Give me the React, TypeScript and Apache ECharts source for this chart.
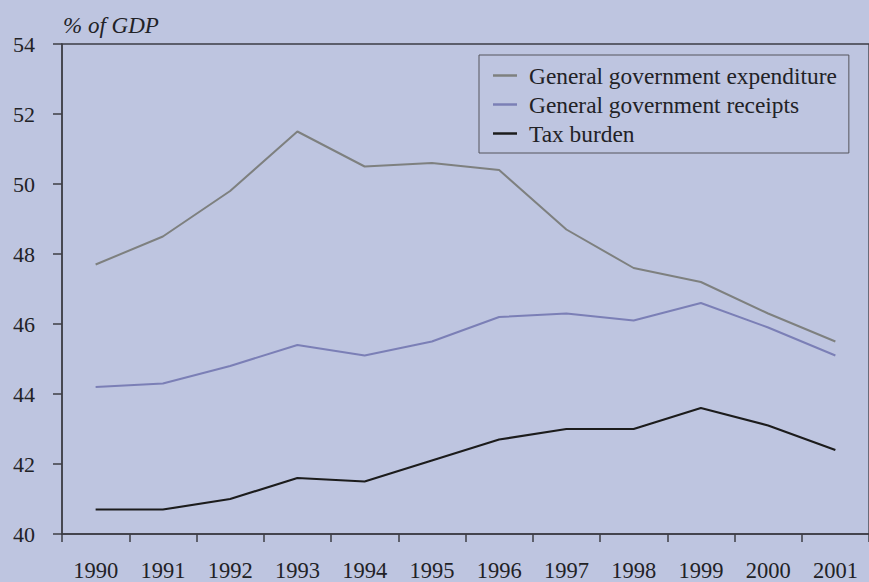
import React, { useEffect, useRef } from "react";
import * as echarts from "echarts";

const years = ["1990", "1991", "1992", "1993", "1994", "1995", "1996", "1997", "1998", "1999", "2000", "2001"];
const expenditure = [47.7, 48.5, 49.8, 51.5, 50.5, 50.6, 50.4, 48.7, 47.6, 47.2, 46.3, 45.5];
const receipts = [44.2, 44.3, 44.8, 45.4, 45.1, 45.5, 46.2, 46.3, 46.1, 46.6, 45.9, 45.1];
const taxBurden = [40.7, 40.7, 41.0, 41.6, 41.5, 42.1, 42.7, 43.0, 43.0, 43.6, 43.1, 42.4];
const seriesNames = ["General government expenditure", "General government receipts", "Tax burden"];

const FONT = "Liberation Serif";
const AXIS = "#3c3c44";
const TEXT = "#222226";

export default function App() {
  const ref = useRef<HTMLDivElement>(null);
  useEffect(() => {
    if (!ref.current) return;
    const chart = echarts.init(ref.current, null, { renderer: "svg" });
    chart.setOption({
      animation: false,
      backgroundColor: "#bec5e0",
      textStyle: { fontFamily: FONT },
      title: {
        text: "% of GDP",
        left: 58,
        top: 9,
        textStyle: { fontFamily: FONT, fontStyle: "italic", fontWeight: "normal", fontSize: 23, color: TEXT },
      },
      legend: {
        orient: "vertical",
        left: 479,
        top: 55,
        data: seriesNames,
        icon: "rect",
        itemWidth: 24,
        itemHeight: 2.5,
        itemGap: 6,
        padding: [9, 12, 8, 14],
        borderColor: "#55555c",
        borderWidth: 1,
        textStyle: { fontFamily: FONT, fontSize: 23.4, color: TEXT, lineHeight: 21, padding: [0, 0, 0, 7] },
      },
      grid: {
        left: 62,
        top: 44,
        width: 813,
        height: 491,
        show: true,
        borderColor: AXIS,
        borderWidth: 1.3,
        backgroundColor: "transparent",
      },
      xAxis: {
        type: "category",
        data: years,
        boundaryGap: true,
        axisLine: { lineStyle: { color: AXIS, width: 1.5 } },
        axisTick: { show: true, length: 8, lineStyle: { color: AXIS, width: 1.5 } },
        axisLabel: { fontFamily: FONT, fontSize: 22.5, color: TEXT, margin: 25, interval: 0 },
        splitLine: { show: false },
      },
      yAxis: {
        type: "value",
        min: 40,
        max: 54,
        interval: 2,
        axisLine: { show: true, lineStyle: { color: AXIS, width: 1.5 } },
        axisTick: { show: true, length: 9, lineStyle: { color: AXIS, width: 1.5 } },
        axisLabel: { fontFamily: FONT, fontSize: 22, color: TEXT, margin: 27 },
        splitLine: { show: false },
      },
      series: [
        { name: seriesNames[0], type: "line", data: expenditure, symbol: "none", lineStyle: { color: "#7e807f", width: 2 }, itemStyle: { color: "#7e807f" } },
        { name: seriesNames[1], type: "line", data: receipts, symbol: "none", lineStyle: { color: "#7b7fb6", width: 2 }, itemStyle: { color: "#7b7fb6" } },
        { name: seriesNames[2], type: "line", data: taxBurden, symbol: "none", lineStyle: { color: "#1c1c1c", width: 2.2 }, itemStyle: { color: "#1c1c1c" } },
      ],
    });
    return () => chart.dispose();
  }, []);
  return <div ref={ref} style={{ position: "fixed", left: 0, top: 0, width: 869, height: 582 }} />;
}
